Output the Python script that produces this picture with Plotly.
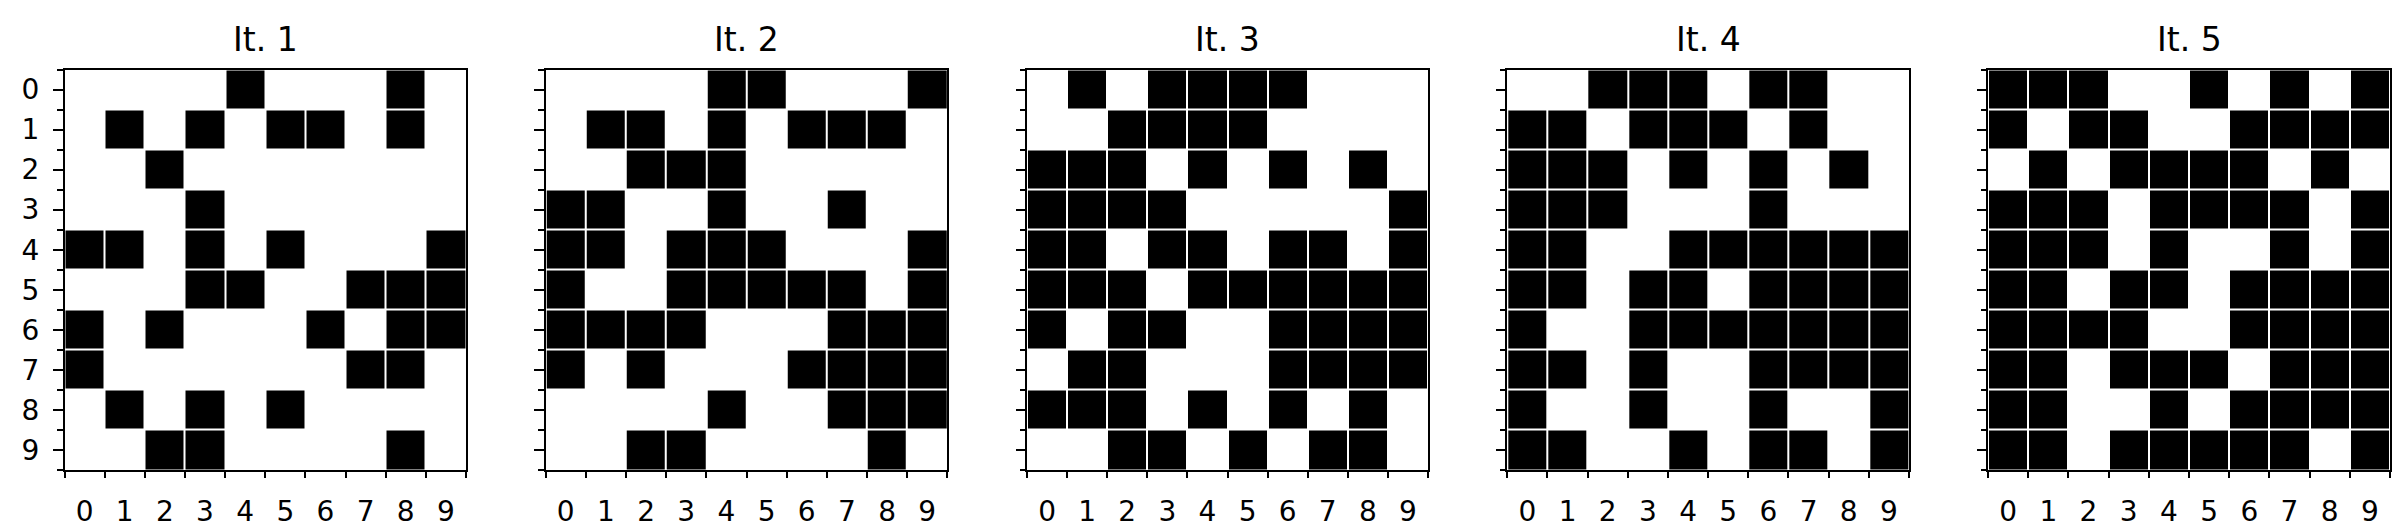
import plotly.graph_objects as go

titles = ["It. 1", "It. 2", "It. 3", "It. 4", "It. 5"]
tick_labels = [str(i) for i in range(10)]

it1 = ["0000100010", "0101011010", "0010000000", "0001000000", "1101010001",
       "0001100111", "1010001011", "1000000110", "0101010000", "0011000010"]
it2 = ["0000110001", "0110101110", "0011100000", "1100100100", "1101110001",
       "1001111101", "1111000111", "1010001111", "0000100111", "0011000010"]
it3 = ["0101111000", "0011110000", "1110101010", "1111000001", "1101101101",
       "1110111111", "1011001111", "0110001111", "1110101010", "0011010110"]
it4 = ["0011101100", "1101110100", "1110101010", "1110001000", "1100111111",
       "1101101111", "1001111111", "1101001111", "1001001001", "1100101101"]
it5 = ["1110010101", "1011001111", "0101111010", "1110111101", "1110100101",
       "1101101111", "1111001111", "1101110111", "1100101111", "1101111101"]
grids = [it1, it2, it3, it4, it5]

W, H = 2402, 530
panel_px = [(56.5, 458), (537.7, 939.3), (1019, 1420), (1499.3, 1901), (1980, 2382)]
top_px, bot_px = 61.5, 462

fig = go.Figure()
idx = list(range(10))
bounds = [i - 0.5 for i in range(11)]
font = "DejaVu Sans, Arial, sans-serif"

for k, (g, t) in enumerate(zip(grids, titles)):
    z = [[int(c) for c in row] for row in g]
    n = "" if k == 0 else str(k + 1)
    fig.add_trace(go.Heatmap(
        z=z, x=idx, y=idx, xaxis="x" + n, yaxis="y" + n,
        colorscale=[[0, "#ffffff"], [1, "#000000"]], zmin=0, zmax=1,
        showscale=False, xgap=2, ygap=2, hoverinfo="skip"))
    l, r = panel_px[k]
    xd = [l / W, r / W]
    yd = [(H - bot_px) / H, (H - top_px) / H]
    fig.update_layout(**{
        "xaxis" + n: dict(
            domain=xd, anchor="y" + n, range=[-0.5, 9.5],
            tickmode="array", tickvals=idx, ticktext=tick_labels,
            ticks="outside", ticklen=9.5, tickwidth=2, tickcolor="rgba(0,0,0,0)",
            minor=dict(tickmode="array", tickvals=bounds, ticks="outside",
                       ticklen=5.5, tickwidth=1.7, tickcolor="black"),
            showgrid=False, zeroline=False,
            showline=True, linecolor="black", linewidth=2, mirror=True,
            tickfont=dict(family=font, size=28, color="black"),
            ticklabelstandoff=6),
        "yaxis" + n: dict(
            domain=yd, anchor="x" + n, range=[9.5, -0.5],
            tickmode="array", tickvals=idx,
            ticktext=tick_labels if k == 0 else [""] * 10,
            ticks="outside", ticklen=9.5, tickwidth=2, tickcolor="black",
            minor=dict(tickmode="array", tickvals=bounds, ticks="outside",
                       ticklen=5.5, tickwidth=1.7, tickcolor="black"),
            showgrid=False, zeroline=False,
            showline=True, linecolor="black", linewidth=2, mirror=True,
            tickfont=dict(family=font, size=28, color="black"),
            ticklabelstandoff=8),
    })
    fig.add_annotation(text=t, xref="paper", yref="paper",
                       x=(xd[0] + xd[1]) / 2, y=yd[1], xanchor="center",
                       yanchor="bottom", yshift=9, showarrow=False,
                       font=dict(family=font, size=33, color="black"))

fig.update_layout(width=W, height=H, margin=dict(l=0, r=0, t=0, b=0),
                  paper_bgcolor="white", plot_bgcolor="white")
fig.write_html("out.html")
